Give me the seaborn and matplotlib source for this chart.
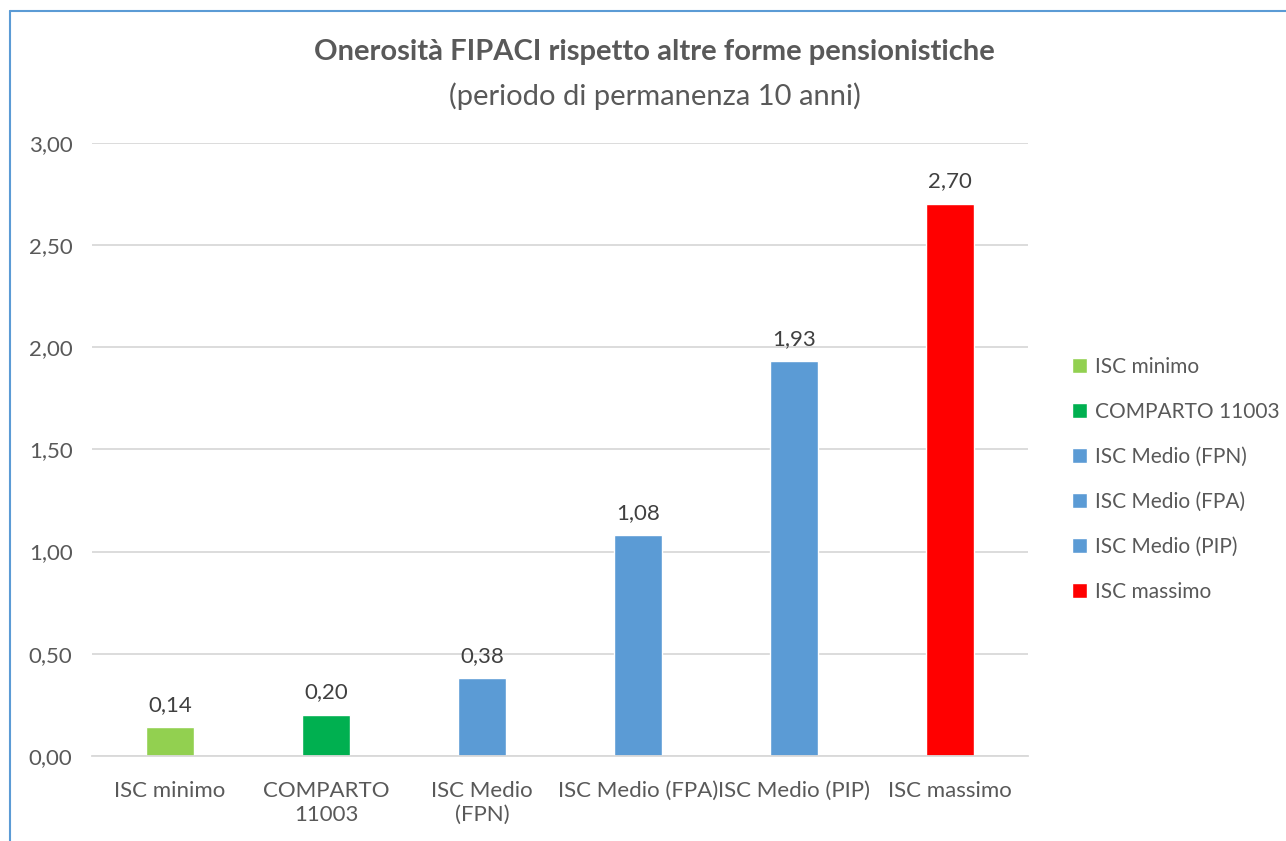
import matplotlib
matplotlib.use("Agg")
import matplotlib.pyplot as plt
import seaborn as sns
import pandas as pd
from matplotlib.lines import Line2D

categories = ["ISC minimo", "COMPARTO 11003", "ISC Medio (FPN)",
              "ISC Medio (FPA)", "ISC Medio (PIP)", "ISC massimo"]
tick_labels = ["ISC minimo", "COMPARTO\n11003", "ISC Medio\n(FPN)",
               "ISC Medio (FPA)", "ISC Medio (PIP)", "ISC massimo"]
values = [0.14, 0.20, 0.38, 1.08, 1.93, 2.70]
colors = ["#92D050", "#00B050", "#5B9BD5", "#5B9BD5", "#5B9BD5", "#FF0000"]

df = pd.DataFrame({"cat": categories, "val": values})

sns.set_theme(style="white")
plt.rcParams["font.family"] = ["Lato", "DejaVu Sans"]
text_col = "#595959"

fig = plt.figure(figsize=(12.86, 8.41), dpi=100)
ax = fig.add_axes([0.0715, 0.1011, 0.7279, 0.7292])

sns.barplot(data=df, x="cat", y="val", hue="cat", palette=colors,
            dodge=False, width=0.31, legend=True, ax=ax, saturation=1)

ax.set_ylim(0, 3.0)
ax.set_xlim(-0.5, len(categories) - 0.5)
ax.set_yticks([0, 0.5, 1.0, 1.5, 2.0, 2.5, 3.0])
ax.set_yticklabels([f"{t:.2f}".replace(".", ",") for t in ax.get_yticks()])
ax.set_xticks(range(len(categories)))
ax.set_xticklabels(tick_labels, linespacing=1.25)
ax.tick_params(axis="y", length=0, pad=14, labelsize=16, labelcolor=text_col)
ax.tick_params(axis="x", length=0, pad=18, labelsize=16, labelcolor=text_col)
ax.set_xlabel("")
ax.set_ylabel("")
ax.yaxis.grid(True, color="#D9D9D9", linewidth=1.3)
ax.set_axisbelow(True)
for s in ["top", "right", "left"]:
    ax.spines[s].set_visible(False)
ax.spines["bottom"].set_color("#D9D9D9")
ax.spines["bottom"].set_linewidth(1.3)

for cont in ax.containers:
    ax.bar_label(cont, labels=[f"{v:.2f}".replace(".", ",") for v in cont.datavalues],
                 padding=9, fontsize=16, color="#404040")

handles, labels = ax.get_legend_handles_labels()
ax.legend(handles, labels, loc="center left", bbox_to_anchor=(0.819, 0.43),
          bbox_transform=fig.transFigure, frameon=False, fontsize=15,
          labelcolor=text_col, handlelength=0.7, handleheight=0.7,
          handletextpad=0.4, labelspacing=1.2)

fig.text(0.509, 0.938, "Onerosità FIPACI rispetto altre forme pensionistiche",
         ha="center", va="center", fontsize=21, fontweight="bold", color=text_col)
fig.text(0.509, 0.886, "(periodo di permanenza 10 anni)",
         ha="center", va="center", fontsize=21, color=text_col)

# cornice del grafico
fig.add_artist(Line2D([10 / 1286, 10 / 1286], [0, 1 - 11 / 841],
                      transform=fig.transFigure, color="#5B9BD5", linewidth=1.5))
fig.add_artist(Line2D([10 / 1286, 1], [1 - 11 / 841, 1 - 11 / 841],
                      transform=fig.transFigure, color="#5B9BD5", linewidth=1.5))

fig.savefig("out.png", dpi=100, facecolor="white")
